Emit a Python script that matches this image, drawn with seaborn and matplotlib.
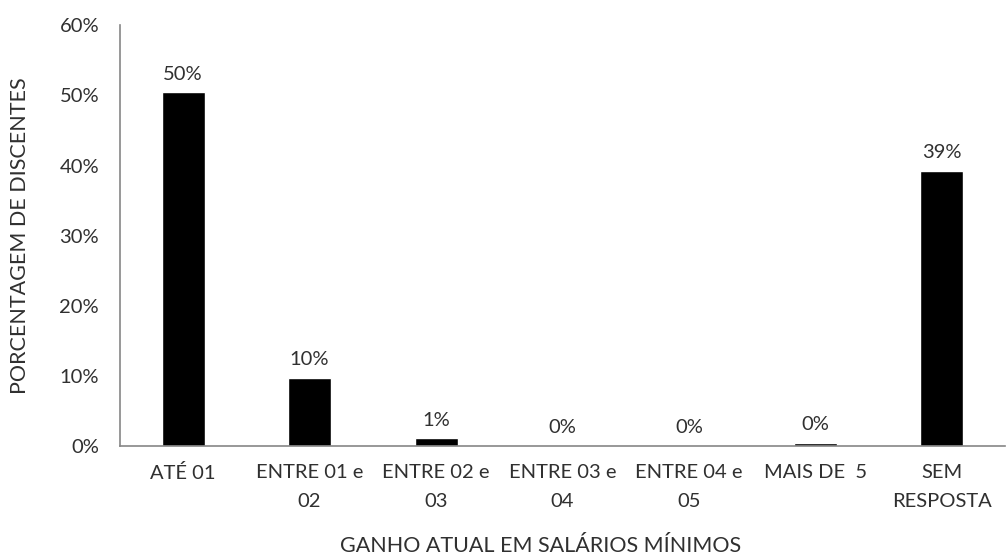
import matplotlib
matplotlib.use("Agg")
import matplotlib.pyplot as plt
import seaborn as sns
import pandas as pd

categories = ["ATÉ 01", "ENTRE 01 e\n02", "ENTRE 02 e\n03", "ENTRE 03 e\n04",
              "ENTRE 04 e\n05", "MAIS DE  5", "SEM\nRESPOSTA"]
shares = [0.5045, 0.097, 0.011, 0.0, 0.0, 0.004, 0.392]
y_ticks = [0.0, 0.1, 0.2, 0.3, 0.4, 0.5, 0.6]

sns.set_theme(style="white")
plt.rcParams["font.family"] = ["Lato", "DejaVu Sans"]
text_color = "#303030"

df = pd.DataFrame({"faixa": categories, "pct": shares})

fig = plt.figure(figsize=(10.08, 5.58), dpi=100)
ax = fig.add_axes([0.119, 0.2007, 0.878, 0.754])

sns.barplot(data=df, x="faixa", y="pct", color="black", width=0.34,
            saturation=1, ax=ax)

for patch, v in zip(ax.patches, shares):
    ax.annotate(f"{v*100:.0f}%",
                (patch.get_x() + patch.get_width() / 2, patch.get_height()),
                xytext=(0, 7), textcoords="offset points",
                ha="center", va="bottom", fontsize=14.5, color=text_color)

ax.set_ylim(0, 0.6)
ax.set_xlim(-0.5, len(categories) - 0.5)
ax.set_yticks(y_ticks)
ax.set_yticklabels([f"{t*100:.0f}%" for t in y_ticks])
ax.tick_params(axis="y", length=0, pad=15, labelsize=14.5, labelcolor=text_color)
ax.tick_params(axis="x", length=0, pad=13, labelsize=14.5, labelcolor=text_color)
for lbl in ax.get_xticklabels():
    lbl.set_linespacing(1.85)

for side in ("top", "right"):
    ax.spines[side].set_visible(False)
for side in ("left", "bottom"):
    ax.spines[side].set_color("#868686")
    ax.spines[side].set_linewidth(1.2)

ax.set_xlabel("GANHO ATUAL EM SALÁRIOS MÍNIMOS", fontsize=15.5,
              color=text_color)
ax.xaxis.set_label_coords(0.475, -0.215)
ax.set_ylabel("PORCENTAGEM DE DISCENTES", fontsize=15.5,
              color=text_color)
ax.yaxis.set_label_coords(-0.102, 0.5)

fig.savefig("out.png", dpi=100)
